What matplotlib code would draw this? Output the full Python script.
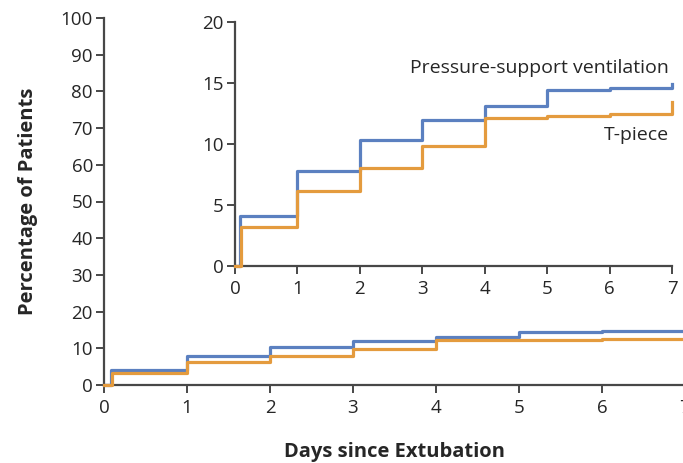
import numpy as np
import matplotlib.pyplot as plt

plt.rcParams['font.family'] = ['Open Sans', 'DejaVu Sans']

# Kaplan-Meier style cumulative percentages
days = [0, 0.08, 1, 2, 3, 4, 5, 6, 7]
psv = [0, 4.1, 7.8, 10.3, 11.95, 13.15, 14.45, 14.6, 14.9]
tpiece_days = [0, 0.1, 1, 2, 3, 4, 5, 6, 7]
tpiece = [0, 3.2, 6.15, 8.0, 9.85, 12.15, 12.3, 12.5, 13.45]

main_yticks = list(range(0, 101, 10))
inset_yticks = [0, 5, 10, 15, 20]
xticks = list(range(0, 8))

blue = '#5b80c0'
orange = '#e49b3e'
axis_col = '#474747'
text_col = '#262626'

W, H = 683, 463
fig = plt.figure(figsize=(W / 100, H / 100), dpi=100)


def style(ax, size):
    for side in ('top', 'right'):
        ax.spines[side].set_visible(False)
    for side in ('left', 'bottom'):
        ax.spines[side].set_color(axis_col)
        ax.spines[side].set_linewidth(1.6)
    ax.tick_params(direction='out', length=6, width=1.4, color=axis_col,
                   labelsize=size, labelcolor=text_col, pad=2)
    ax.tick_params(axis='x', pad=4)


ax = fig.add_axes([104 / W, (H - 385) / H, (685 - 104) / W, (385 - 18) / H])
ax.step(days, psv, where='post', color=blue, lw=2.3, clip_on=False, zorder=3)
ax.step(tpiece_days, tpiece, where='post', color=orange, lw=2.3, clip_on=False, zorder=4)
ax.set_xlim(0, 7)
ax.set_ylim(0, 100)
ax.set_xticks(xticks)
ax.set_yticks(main_yticks)
style(ax, 13.5)
ax.set_ylabel('Percentage of Patients', fontsize=14.5, fontweight='bold', color=text_col, labelpad=16)
ax.set_xlabel('Days since Extubation', fontsize=14.5, fontweight='bold', color=text_col, labelpad=18)

ins = fig.add_axes([235 / W, (H - 266) / H, (672 - 235) / W, (266 - 22) / H])
ins.set_facecolor('white')
ins.step(days, psv, where='post', color=blue, lw=2.3, clip_on=False, zorder=3)
ins.step(tpiece_days, tpiece, where='post', color=orange, lw=2.3, clip_on=False, zorder=4)
ins.set_xlim(0, 7)
ins.set_ylim(0, 20)
ins.set_xticks(xticks)
ins.set_yticks(inset_yticks)
style(ins, 13.5)
ins.text(6.95, 16.2, 'Pressure-support ventilation', ha='right', va='center',
         fontsize=14, color=text_col)
ins.text(6.95, 10.75, 'T-piece', ha='right', va='center', fontsize=14, color=text_col)

fig.savefig('out.png', dpi=100)
